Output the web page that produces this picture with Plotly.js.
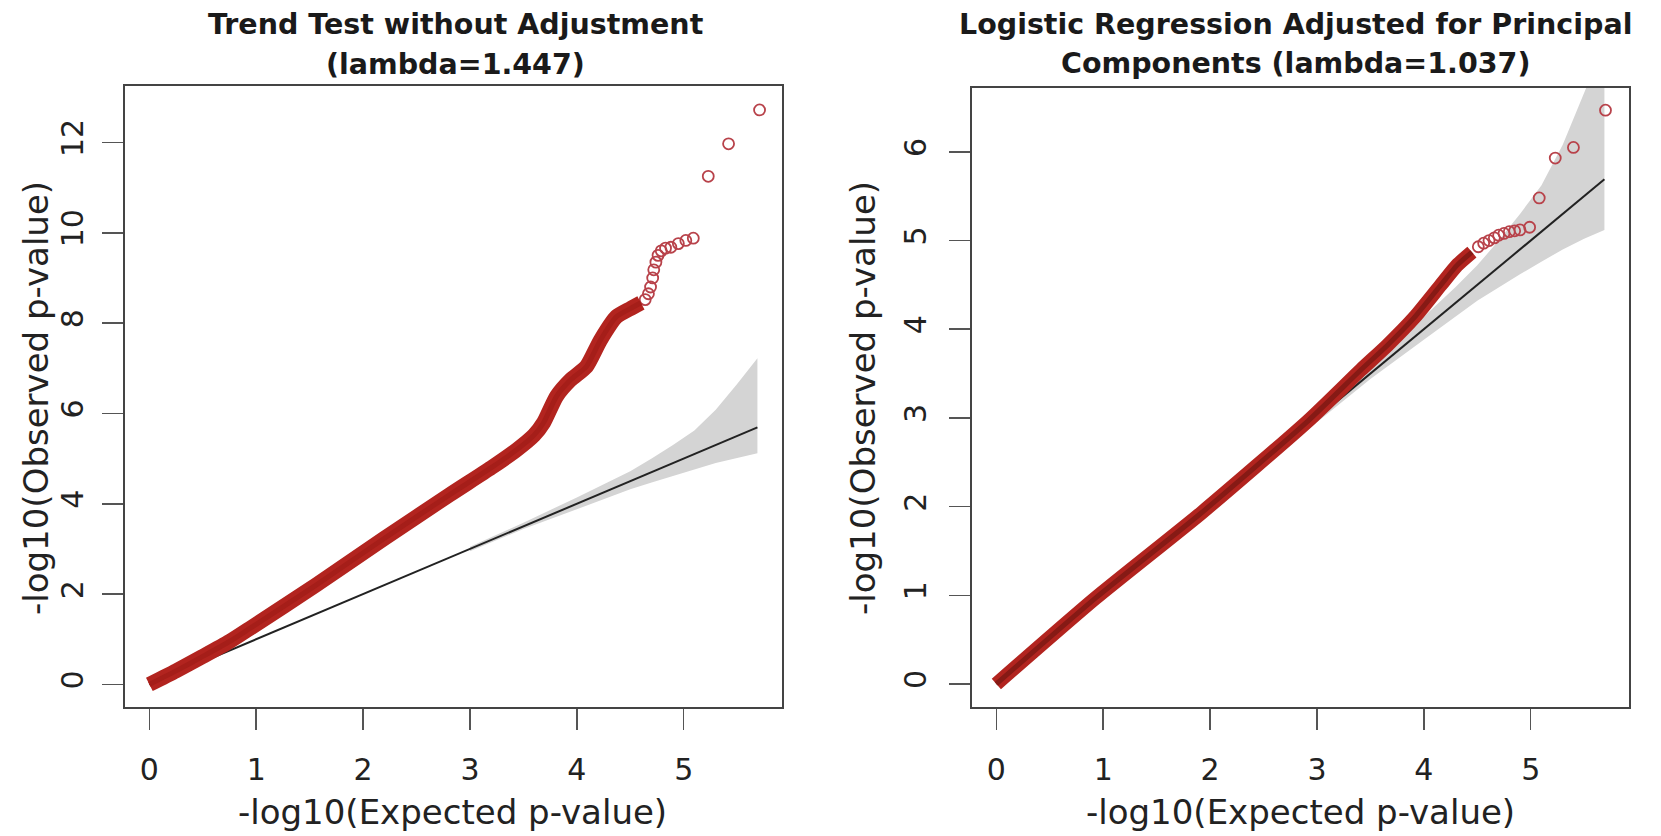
<!DOCTYPE html>
<html>
<head>
<meta charset="utf-8">
<script src="https://cdn.plot.ly/plotly-3.0.1.min.js"></script>
<style>
  html, body { margin: 0; padding: 0; background: #fff; }
  #chart { width: 1661px; height: 836px; }
</style>
</head>
<body>
<div id="chart"></div>
<script>
// ---- Panel 1: trend test, no adjustment ----
const trendDenseX = [0, 0.25, 0.5, 0.75, 0.94, 1.56, 2.19, 2.81, 3.20, 3.44, 3.60, 3.69, 3.81, 3.94, 4.09, 4.22, 4.37, 4.50, 4.60];
const trendDenseY = [0, 0.30, 0.62, 0.95, 1.24, 2.20, 3.22, 4.20, 4.80, 5.20, 5.52, 5.80, 6.38, 6.74, 7.04, 7.62, 8.14, 8.32, 8.45];
const trendTailX = [4.64, 4.67, 4.69, 4.71, 4.72, 4.74, 4.76, 4.79, 4.83, 4.88, 4.95, 5.02, 5.09, 5.23, 5.42, 5.71];
const trendTailY = [8.52, 8.65, 8.80, 9.00, 9.18, 9.35, 9.50, 9.60, 9.66, 9.68, 9.76, 9.83, 9.88, 11.25, 11.97, 12.72];

// ---- Panel 2: logistic regression adjusted for PCs ----
const logitDenseX = [0, 0.93, 1.92, 2.92, 3.41, 3.66, 3.91, 4.16, 4.31, 4.45];
const logitDenseY = [0, 0.97, 1.93, 2.97, 3.54, 3.82, 4.13, 4.50, 4.72, 4.87];
const logitTailX = [4.51, 4.56, 4.61, 4.66, 4.70, 4.75, 4.80, 4.85, 4.90, 4.99, 5.08, 5.23, 5.40, 5.70];
const logitTailY = [4.93, 4.97, 5.00, 5.03, 5.06, 5.08, 5.10, 5.11, 5.12, 5.15, 5.48, 5.93, 6.05, 6.47];

// ---- Shared: expected null line and 95% band ----
const nullX = [0, 5.69];
const nullY = [0, 5.69];
const bandX  = [3.0, 3.5, 4.0, 4.3, 4.5, 4.7, 4.9, 5.1, 5.3, 5.5, 5.69];
const bandLo = [2.95, 3.44, 3.88, 4.14, 4.32, 4.47, 4.62, 4.76, 4.90, 5.02, 5.12];
const bandHi = [3.05, 3.58, 4.14, 4.48, 4.72, 5.00, 5.30, 5.62, 6.08, 6.65, 7.22];

// ---- Tick labels ----
const xTicks = [0, 1, 2, 3, 4, 5];
const yTicksTrend = [0, 2, 4, 6, 8, 10, 12];
const yTicksLogit = [0, 1, 2, 3, 4, 5, 6];

const titles = [
  ["Trend Test without Adjustment", "(lambda=1.447)"],
  ["Logistic Regression Adjusted for Principal", "Components (lambda=1.037)"]
];
const xTitle = "-log10(Expected p-value)";
const yTitle = "-log10(Observed p-value)";

const FAMILY = "DejaVu Sans, Liberation Sans, Arial, sans-serif";
const BAND_FILL = "#d4d4d4";
const RED = "#b2241f";
const TAIL = "#b8424a";

function panelTraces(xa, ya, dx, dy, tx, ty, width, innerColor) {
  return [
    { x: bandX, y: bandLo, xaxis: xa, yaxis: ya, mode: "lines",
      line: { width: 0, color: BAND_FILL }, hoverinfo: "skip" },
    { x: bandX, y: bandHi, xaxis: xa, yaxis: ya, mode: "lines", fill: "tonexty",
      fillcolor: BAND_FILL, line: { width: 0, color: BAND_FILL }, hoverinfo: "skip" },
    { x: nullX, y: nullY, xaxis: xa, yaxis: ya, mode: "lines",
      line: { width: 2, color: "#222" } },
    { x: tx, y: ty, xaxis: xa, yaxis: ya, mode: "markers",
      marker: { symbol: "circle-open", size: 11, line: { width: 1.8, color: TAIL }, color: TAIL } },
    { x: dx, y: dy, xaxis: xa, yaxis: ya, mode: "lines",
      line: { width: width, color: RED, shape: "spline", smoothing: 0.6 } },
    { x: dx, y: dy, xaxis: xa, yaxis: ya, mode: "lines",
      line: { width: 5, color: innerColor, shape: "spline", smoothing: 0.6 } }
  ];
}

const data = [
  ...panelTraces("x", "y", trendDenseX, trendDenseY, trendTailX, trendTailY, 15, "#a51e19"),
  ...panelTraces("x2", "y2", logitDenseX, logitDenseY, logitTailX, logitTailY, 14, "#861a15")
];

const W = 1661, H = 836;
const px = v => v / W;
const py = v => 1 - v / H;

function xAxis(left, right, anchor) {
  return {
    domain: [px(left), px(right)], range: [-0.228, 5.92], anchor: anchor,
    tickvals: xTicks, ticktext: xTicks.map(String),
    ticks: "outside", ticklen: 21, tickwidth: 1.5, tickcolor: "#555",
    showline: true, mirror: true, linecolor: "#444", linewidth: 2,
    showgrid: false, zeroline: false, ticklabelstandoff: 14,
    tickfont: { family: FAMILY, size: 30, color: "#222" }
  };
}
function yAxis(top, bottom, range, ticks, anchor, standoff) {
  return {
    domain: [py(bottom), py(top)], range: range, anchor: anchor,
    tickvals: ticks, ticktext: ticks.map(String), tickangle: -90,
    ticks: "outside", ticklen: 21, tickwidth: 1.5, tickcolor: "#555",
    showline: true, mirror: true, linecolor: "#444", linewidth: 2,
    showgrid: false, zeroline: false, ticklabelstandoff: standoff,
    tickfont: { family: FAMILY, size: 30, color: "#222" }
  };
}

const titleFont = { family: FAMILY, size: 28.5, color: "#1a1a1a" };
const axFont = { family: FAMILY, size: 34, color: "#222" };

const annotations = [
  { text: "<b>" + titles[0][0] + "</b>", x: px(455), y: py(25), font: titleFont },
  { text: "<b>" + titles[0][1] + "</b>", x: px(455), y: py(65), font: titleFont },
  { text: "<b>" + titles[1][0] + "</b>", x: px(1295), y: py(25), font: titleFont },
  { text: "<b>" + titles[1][1] + "</b>", x: px(1295), y: py(64), font: titleFont },
  { text: xTitle, x: px(453), y: py(812), font: axFont },
  { text: xTitle, x: px(1300), y: py(812), font: axFont },
  { text: yTitle, x: px(36), y: py(398), textangle: -90, font: axFont },
  { text: yTitle, x: px(863), y: py(398), textangle: -90, font: axFont }
].map(a => Object.assign({ xref: "paper", yref: "paper", showarrow: false,
  xanchor: "center", yanchor: "middle" }, a));

const layout = {
  width: W, height: H,
  margin: { l: 0, r: 0, t: 0, b: 0 },
  paper_bgcolor: "#fff", plot_bgcolor: "#fff",
  showlegend: false, hovermode: false,
  font: { family: FAMILY, color: "#222" },
  xaxis: xAxis(125, 782, "y"),
  yaxis: yAxis(86, 707, [-0.5, 13.25], yTicksTrend, "x", 7),
  xaxis2: xAxis(972, 1629, "y2"),
  yaxis2: yAxis(88, 707, [-0.26, 6.72], yTicksLogit, "x2", 11),
  annotations: annotations
};

Plotly.newPlot("chart", data, layout, { staticPlot: true, displayModeBar: false });
</script>
</body>
</html>
